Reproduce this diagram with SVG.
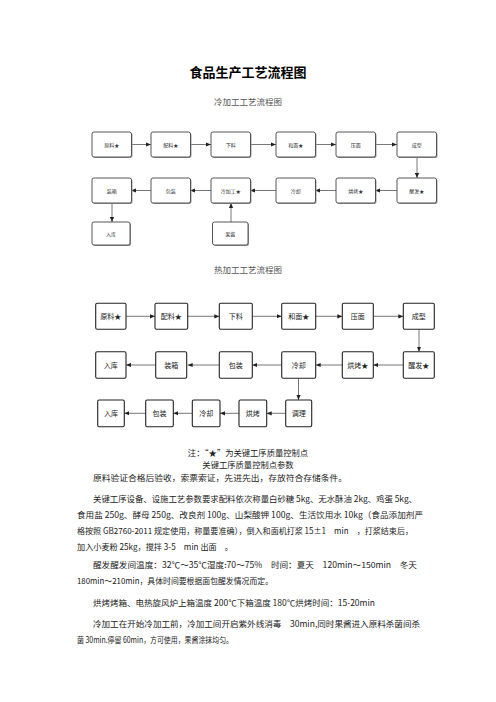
<svg xmlns="http://www.w3.org/2000/svg" width="496" height="702" viewBox="0 0 496 702">
<style>
.cb{fill:#fff;stroke:#444;stroke-width:0.9}
.cs{fill:#9a9a9a}
.ct{font-family:"Noto Sans CJK SC","Liberation Sans",sans-serif;font-size:5px;fill:#333;text-anchor:middle;dominant-baseline:central}
.hb{fill:#fff;stroke:#222;stroke-width:1.1}
.ht{font-family:"Noto Sans CJK SC","Liberation Sans",sans-serif;font-size:7px;fill:#222;text-anchor:middle;dominant-baseline:central}
.ln{stroke:#555;stroke-width:0.8;fill:none}
.title{font-family:"Noto Sans CJK SC",sans-serif;font-size:13px;font-weight:bold;fill:#000;text-anchor:middle}
.sub{font-family:"Noto Sans CJK SC",serif;font-size:8.5px;fill:#555;text-anchor:middle}
.p{font-family:"Noto Sans CJK SC","Liberation Sans",sans-serif;font-size:8.3px;fill:#222}
.pc{font-family:"Noto Sans CJK SC","Liberation Sans",sans-serif;font-size:8.3px;fill:#222;text-anchor:middle}
</style>
<defs>
<marker id="a" viewBox="0 0 6 6" refX="6" refY="3" markerWidth="5" markerHeight="5" orient="auto" markerUnits="userSpaceOnUse"><path d="M0,0.5 L6,3 L0,5.5 z" fill="#222"/></marker>
</defs>
<rect width="496" height="702" fill="#fff"/>
<text class="title" x="248" y="77">食品生产工艺流程图</text>
<text class="sub" x="248" y="105">冷加工工艺流程图</text>
<text class="sub" x="248" y="273">热加工工艺流程图</text>

<g id="cold-connectors">
<line class="ln" x1="131" y1="144.5" x2="151" y2="144.5" marker-end="url(#a)"/>
<line class="ln" x1="190" y1="144.5" x2="211" y2="144.5" marker-end="url(#a)"/>
<line class="ln" x1="250" y1="144.5" x2="276" y2="144.5" marker-end="url(#a)"/>
<line class="ln" x1="315" y1="144.5" x2="336" y2="144.5" marker-end="url(#a)"/>
<line class="ln" x1="375" y1="144.5" x2="397" y2="144.5" marker-end="url(#a)"/>
<line class="ln" x1="417" y1="157" x2="417" y2="178" marker-end="url(#a)"/>
<line class="ln" x1="397" y1="190.5" x2="375" y2="190.5" marker-end="url(#a)"/>
<line class="ln" x1="336" y1="190.5" x2="315" y2="190.5" marker-end="url(#a)"/>
<line class="ln" x1="276" y1="190.5" x2="250" y2="190.5" marker-end="url(#a)"/>
<line class="ln" x1="211" y1="190.5" x2="190" y2="190.5" marker-end="url(#a)"/>
<line class="ln" x1="151" y1="190.5" x2="131" y2="190.5" marker-end="url(#a)"/>
<line class="ln" x1="112" y1="203" x2="112" y2="222" marker-end="url(#a)"/>
<line class="ln" x1="231" y1="222" x2="231" y2="203" marker-end="url(#a)"/>
</g>

<g id="c1"><rect class="cs" x="93" y="133" width="39.5" height="25" rx="2"/><rect class="cb" x="92" y="132" width="39.5" height="25" rx="2"/><text class="ct" x="111.7" y="144.5">原料★</text></g>
<g id="c2"><rect class="cs" x="152" y="133" width="39.5" height="25" rx="2"/><rect class="cb" x="151" y="132" width="39.5" height="25" rx="2"/><text class="ct" x="170.7" y="144.5">配料★</text></g>
<g id="c3"><rect class="cs" x="212" y="133" width="39.5" height="25" rx="2"/><rect class="cb" x="211" y="132" width="39.5" height="25" rx="2"/><text class="ct" x="230.7" y="144.5">下料</text></g>
<g id="c4"><rect class="cs" x="277" y="133" width="39.5" height="25" rx="2"/><rect class="cb" x="276" y="132" width="39.5" height="25" rx="2"/><text class="ct" x="295.7" y="144.5">和面★</text></g>
<g id="c5"><rect class="cs" x="337" y="133" width="39.5" height="25" rx="2"/><rect class="cb" x="336" y="132" width="39.5" height="25" rx="2"/><text class="ct" x="355.7" y="144.5">压面</text></g>
<g id="c6"><rect class="cs" x="398" y="133" width="39.5" height="25" rx="2"/><rect class="cb" x="397" y="132" width="39.5" height="25" rx="2"/><text class="ct" x="416.7" y="144.5">成型</text></g>
<g id="c7"><rect class="cs" x="93" y="179" width="39.5" height="25" rx="2"/><rect class="cb" x="92" y="178" width="39.5" height="25" rx="2"/><text class="ct" x="111.7" y="190.5">装箱</text></g>
<g id="c8"><rect class="cs" x="152" y="179" width="39.5" height="25" rx="2"/><rect class="cb" x="151" y="178" width="39.5" height="25" rx="2"/><text class="ct" x="170.7" y="190.5">包装</text></g>
<g id="c9"><rect class="cs" x="212" y="179" width="39.5" height="25" rx="2"/><rect class="cb" x="211" y="178" width="39.5" height="25" rx="2"/><text class="ct" x="230.7" y="190.5">冷加工★</text></g>
<g id="c10"><rect class="cs" x="277" y="179" width="39.5" height="25" rx="2"/><rect class="cb" x="276" y="178" width="39.5" height="25" rx="2"/><text class="ct" x="295.7" y="190.5">冷却</text></g>
<g id="c11"><rect class="cs" x="337" y="179" width="39.5" height="25" rx="2"/><rect class="cb" x="336" y="178" width="39.5" height="25" rx="2"/><text class="ct" x="355.7" y="190.5">烘烤★</text></g>
<g id="c12"><rect class="cs" x="398" y="179" width="39.5" height="25" rx="2"/><rect class="cb" x="397" y="178" width="39.5" height="25" rx="2"/><text class="ct" x="416.7" y="190.5">醒发★</text></g>
<g id="c13"><rect class="cs" x="93" y="223" width="38" height="23" rx="2"/><rect class="cb" x="92" y="222" width="38" height="23" rx="2"/><text class="ct" x="111" y="233.5">入库</text></g>
<g id="c14"><rect class="cs" x="213.5" y="223" width="35.5" height="23" rx="2"/><rect class="cb" x="212.5" y="222" width="35.5" height="23" rx="2"/><text class="ct" x="230.3" y="233.5">果酱</text></g>

<g id="hot-connectors">
<line class="ln" x1="126" y1="316.3" x2="155" y2="316.3" marker-end="url(#a)"/>
<line class="ln" x1="187.7" y1="316.3" x2="219.3" y2="316.3" marker-end="url(#a)"/>
<line class="ln" x1="252.3" y1="316.3" x2="281.7" y2="316.3" marker-end="url(#a)"/>
<line class="ln" x1="315.7" y1="316.3" x2="342.3" y2="316.3" marker-end="url(#a)"/>
<line class="ln" x1="373.3" y1="316.3" x2="403.3" y2="316.3" marker-end="url(#a)"/>
<line class="ln" x1="419" y1="329.3" x2="419" y2="351.7" marker-end="url(#a)"/>
<line class="ln" x1="403.3" y1="365" x2="373.3" y2="365" marker-end="url(#a)"/>
<line class="ln" x1="342.3" y1="365" x2="315.7" y2="365" marker-end="url(#a)"/>
<line class="ln" x1="281.7" y1="365" x2="252.3" y2="365" marker-end="url(#a)"/>
<line class="ln" x1="219.3" y1="365" x2="187.7" y2="365" marker-end="url(#a)"/>
<line class="ln" x1="155.7" y1="365" x2="126" y2="365" marker-end="url(#a)"/>
<line class="ln" x1="298.5" y1="378.3" x2="298.5" y2="400" marker-end="url(#a)"/>
<line class="ln" x1="285.7" y1="413.3" x2="266.7" y2="413.3" marker-end="url(#a)"/>
<line class="ln" x1="239" y1="413.3" x2="220" y2="413.3" marker-end="url(#a)"/>
<line class="ln" x1="192.3" y1="413.3" x2="173.3" y2="413.3" marker-end="url(#a)"/>
<line class="ln" x1="145.7" y1="413.3" x2="124.3" y2="413.3" marker-end="url(#a)"/>
</g>

<g id="h1"><rect class="hb" x="95.7" y="303.3" width="30.3" height="26" rx="1.5"/><text class="ht" x="110.8" y="316.3">原料★</text></g>
<g id="h2"><rect class="hb" x="155" y="303.3" width="32.7" height="26" rx="1.5"/><text class="ht" x="171.3" y="316.3">配料★</text></g>
<g id="h3"><rect class="hb" x="219.3" y="303.3" width="33" height="26" rx="1.5"/><text class="ht" x="235.8" y="316.3">下料</text></g>
<g id="h4"><rect class="hb" x="281.7" y="303.3" width="34" height="26" rx="1.5"/><text class="ht" x="298.7" y="316.3">和面★</text></g>
<g id="h5"><rect class="hb" x="342.3" y="303.3" width="31" height="26" rx="1.5"/><text class="ht" x="357.8" y="316.3">压面</text></g>
<g id="h6"><rect class="hb" x="403.3" y="303.3" width="31" height="26" rx="1.5"/><text class="ht" x="418.8" y="316.3">成型</text></g>
<g id="h7"><rect class="hb" x="95.7" y="351.7" width="30.3" height="26.6" rx="1.5"/><text class="ht" x="110.8" y="365">入库</text></g>
<g id="h8"><rect class="hb" x="155.7" y="351.7" width="31" height="26.6" rx="1.5"/><text class="ht" x="171.2" y="365">装箱</text></g>
<g id="h9"><rect class="hb" x="219.3" y="351.7" width="33" height="26.6" rx="1.5"/><text class="ht" x="235.8" y="365">包装</text></g>
<g id="h10"><rect class="hb" x="281.7" y="351.7" width="34" height="26.6" rx="1.5"/><text class="ht" x="298.7" y="365">冷却</text></g>
<g id="h11"><rect class="hb" x="342.3" y="351.7" width="31" height="26.6" rx="1.5"/><text class="ht" x="357.8" y="365">烘烤★</text></g>
<g id="h12"><rect class="hb" x="403.3" y="351.7" width="31" height="26.6" rx="1.5"/><text class="ht" x="418.8" y="365">醒发★</text></g>
<g id="h13"><rect class="hb" x="97.7" y="400" width="26.6" height="26.7" rx="1.5"/><text class="ht" x="111" y="413.3">入库</text></g>
<g id="h14"><rect class="hb" x="145.7" y="400" width="27.6" height="26.7" rx="1.5"/><text class="ht" x="159.5" y="413.3">包装</text></g>
<g id="h15"><rect class="hb" x="192.3" y="400" width="27.7" height="26.7" rx="1.5"/><text class="ht" x="206.2" y="413.3">冷却</text></g>
<g id="h16"><rect class="hb" x="239" y="400" width="27.7" height="26.7" rx="1.5"/><text class="ht" x="252.8" y="413.3">烘烤</text></g>
<g id="h17"><rect class="hb" x="285.7" y="400" width="26" height="26.7" rx="1.5"/><text class="ht" x="298.7" y="413.3">调理</text></g>

<text class="pc" x="248" y="456">注：“★”为关键工序质量控制点</text>
<text class="pc" x="248" y="468">关键工序质量控制点参数</text>
<text class="p" x="93" y="481" textLength="254" lengthAdjust="spacingAndGlyphs">原料验证合格后验收，索票索证，先进先出，存放符合存储条件。</text>
<text class="p" x="93" y="502" textLength="324" lengthAdjust="spacingAndGlyphs">关键工序设备、设施工艺参数要求配料依次称量白砂糖 5kg、无水酥油 2kg、鸡蛋 5kg、</text>
<text class="p" x="77" y="518" textLength="346" lengthAdjust="spacingAndGlyphs">食用盐 250g、酵母 250g、改良剂 100g、山梨酸钾 100g、生活饮用水 10kg（食品添加剂严</text>
<text class="p" x="77" y="534" textLength="336" lengthAdjust="spacingAndGlyphs">格按照 GB2760-2011 规定使用，称量要准确），倒入和面机打浆 15±1　min　，打浆结束后，</text>
<text class="p" x="77" y="550" textLength="156" lengthAdjust="spacingAndGlyphs">加入小麦粉 25kg，搅拌 3-5　min 出面　。</text>
<text class="p" x="93" y="568" textLength="324" lengthAdjust="spacingAndGlyphs">醒发醒发间温度：32℃～35℃湿度:70～75%　时间：夏天　120min～150min　冬天</text>
<text class="p" x="77" y="584" textLength="196" lengthAdjust="spacingAndGlyphs">180min～210min，具体时间要根据面包醒发情况而定。</text>
<text class="p" x="93" y="606" textLength="282" lengthAdjust="spacingAndGlyphs">烘烤烤箱、电热旋风炉上箱温度 200℃下箱温度 180℃烘烤时间：15-20min</text>
<text class="p" x="93" y="627" textLength="327" lengthAdjust="spacingAndGlyphs">冷加工在开始冷加工前，冷加工间开启紫外线消毒　30min,同时果酱进入原料杀菌间杀</text>
<text class="p" x="77" y="643" textLength="156" lengthAdjust="spacingAndGlyphs">菌 30min.停留 60min，方可使用，果酱涂抹均匀。</text>
</svg>
